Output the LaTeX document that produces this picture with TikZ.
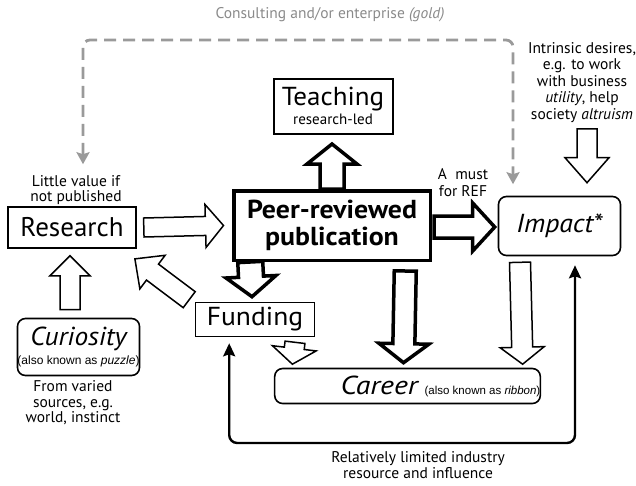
\documentclass[tikz,border=0pt]{standalone}
\usepackage{fontspec}
\usepackage{graphicx}
\setmainfont{PT Sans}
\newfontfamily\arialf{Liberation Sans}
\usetikzlibrary{calc,arrows.meta}
\newcommand\setfs[2]{\fontsize{#1}{#2}\selectfont}
\definecolor{dgray}{HTML}{9A9A9A}
\definecolor{tgray}{HTML}{8A8A8A}
% #1 from, #2 to, #3 shaft half width, #4 head half width, #5 head length, #6 style
\newcommand\blockarrow[6]{%
  \path let \p1=#1, \p2=#2 in \pgfextra{%
    \pgfmathsetmacro\baang{atan2(\y2-\y1,\x2-\x1)}%
    \pgfmathsetmacro\balen{veclen(\x2-\x1,\y2-\y1)}%
    \xdef\baangG{\baang}\xdef\balenG{\balen}};
  \begin{scope}[shift={#1}, rotate=\baangG]
    \draw[#6] (0,-#3) -- ({\balenG-#5},-#3) -- ({\balenG-#5},-#4) -- (\balenG,0)
      -- ({\balenG-#5},#4) -- ({\balenG-#5},#3) -- (0,#3) -- cycle;
  \end{scope}}
\begin{document}
\begin{tikzpicture}[x=1pt,y=-1pt,
  box/.style={draw, line width=1.6pt, inner sep=0pt, align=center},
  rbox/.style={box, rounded corners=8pt},
  lbl/.style={inner sep=0pt, align=center, font=\setfs{15.5}{16.5}},
  thinarr/.style={draw, fill=white, line width=1.5pt, line join=miter},
  thickarr/.style={draw, fill=white, line width=3.5pt, line join=miter, miter limit=20},
  gdash/.style={draw=dgray, line width=2.8pt, dash pattern=on 12pt off 7pt, rounded corners=7pt,
    {Stealth[length=12pt,width=13pt,inset=2pt,fill=dgray]}-{Stealth[length=12pt,width=13pt,inset=2pt,fill=dgray]}},
  loopline/.style={draw, line width=2.4pt, rounded corners=8pt,
    {Stealth[length=13pt,width=12pt,inset=2pt]}-{Stealth[length=13pt,width=12pt,inset=2pt]}}]
\useasboundingbox (0,0) rectangle (636,485);

% boxes
\node[box, minimum width=128pt, minimum height=41pt, font=\setfs{27}{30}] (research) at (72,227.5) {Research};
\node[box, line width=3.5pt, minimum width=196.5pt, minimum height=69.5pt, font=\bfseries\setfs{26}{27}] (peer) at (332,225.5) {\scalebox{1.07}[1]{Peer-reviewed}\\\scalebox{1.07}[1]{publication}};
\node[box, line width=2pt, minimum width=119pt, minimum height=55pt, font=\setfs{15}{19}] (teaching) at (333,106) {{\setfs{26}{26}\scalebox{1.04}[1]{Teaching}}\\{\setfs{15}{15}research-led}};
\node[rbox, minimum width=122pt, minimum height=59pt, font=\itshape\setfs{26}{28}] (impact) at (559.5,226) {\scalebox{1.07}[1]{Impact*}};
\node[box, minimum width=119pt, minimum height=34pt, font=\setfs{26}{28}] (funding) at (255,319.5) {\scalebox{1.06}[1]{Funding}};
\node[rbox, minimum width=122pt, minimum height=57pt, font=\setfs{12}{19}] (curiosity) at (78.5,347) {{\itshape\setfs{26}{26}\scalebox{1.05}[1]{Curiosity}}\\{\arialf\setfs{12}{12}(also known as \textit{puzzle})}};
\node[rbox, minimum width=262pt, minimum height=35pt, inner xsep=0pt, font=\setfs{26}{28}] (career) at (407.5,386) {\hspace*{66pt}\scalebox{1.15}[1]{\itshape Career}\hspace{7pt}{\arialf\setfs{11.5}{12}(also known as \textit{ribbon})}};

% text labels
\node[lbl, text=tgray] (title) at (330,15) {Consulting and/or enterprise \textit{(gold)}};
\node[lbl, font=\setfs{15.5}{15}] (littleval) at (76,190) {Little value if\\not published};
\node[lbl, font=\setfs{15.5}{17}] (amust) at (463,183) {A\ \ must\\for REF};
\node[lbl] (intrinsic) at (582,82.5) {Intrinsic desires,\\e.g. to work\\with business\\\textit{utility}, help\\society \textit{altruism}};
\node[lbl, font=\setfs{15.5}{15.5}] (fromvaried) at (73,403) {From varied\\sources, e.g.\\world, instinct};
\node[lbl] (relatively) at (418,465) {Relatively limited industry\\resource and influence};

% block arrows
\blockarrow{($(research.east)+(7,0)$)}{($(peer.west)+(-8.5,0)$)}{9.5}{21.5}{18}{thinarr}
\blockarrow{(peer.north)}{($(teaching.south)+(-1,9.5)$)}{12}{25}{20}{thickarr}
\blockarrow{($(peer.east)+(2,1.5)$)}{($(impact.west)+(-3,1)$)}{11}{24}{22}{thickarr}
\blockarrow{($(peer.south west)+(18.25,0)$)}{($(funding.north)+(-3,-5)$)}{12.5}{25}{20}{thickarr}
\blockarrow{($(peer.south east)+(-26.75,9)$)}{($(career.north)+(-4,-5)$)}{11}{25}{19}{thickarr}
\blockarrow{($(impact.south)+(-39.5,6)$)}{($(career.north east)+(-18.5,-3.5)$)}{10.5}{22}{17}{thinarr}
\blockarrow{($(funding.south)+(40,5)$)}{($(career.north west)+(18.5,-3.5)$)}{10}{22}{16}{thinarr}
\blockarrow{($(curiosity.north)+(-8.5,-8)$)}{($(research.south)+(-2,7)$)}{10}{20}{20}{thinarr}
\blockarrow{($(intrinsic.south)+(5,6)$)}{($(impact.north)+(27.5,-13)$)}{10}{22}{25}{thinarr}
\blockarrow{($(funding.north west)+(-5.5,-2)$)}{($(research.south east)+(-2,10)$)}{10}{21}{22}{thinarr}

% dashed consulting path
\coordinate (dl) at ($(research.north)+(11,-42)$);
\coordinate (dr) at ($(impact.north)+(-46.5,-11.5)$);
\coordinate (dtop) at (0,40);
\draw[gdash] (dl) -- (dl |- dtop) -- (dr |- dtop) -- (dr);

% loop line
\coordinate (lf) at ($(funding.south west)+(34.5,6)$);
\coordinate (li) at ($(impact.south)+(15.5,9)$);
\coordinate (lbot) at (0,443);
\draw[loopline] (lf) -- (lf |- lbot) -- (li |- lbot) -- (li);
\end{tikzpicture}
\end{document}
